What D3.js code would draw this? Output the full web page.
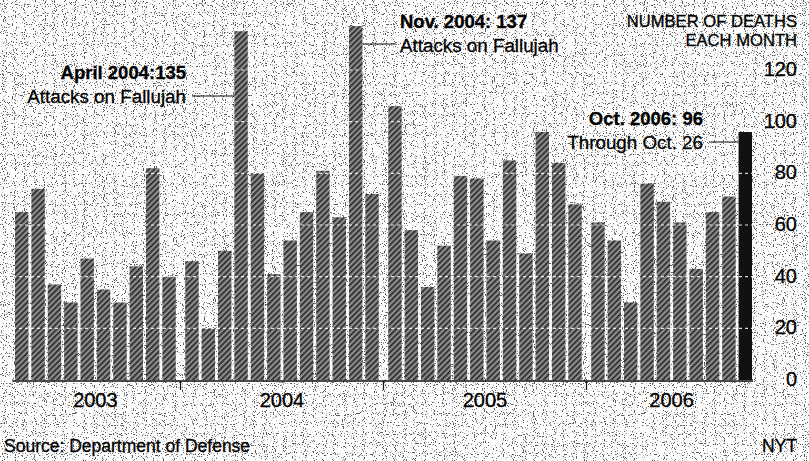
<!DOCTYPE html>
<html lang="en">
<head>
<meta charset="utf-8">
<title>Deaths each month</title>
<script src="https://d3js.org/d3.v7.min.js"></script>
<style>
  body { margin: 0; background: #fff; }
  svg text { font-family: "Liberation Sans", Arial, Helvetica, sans-serif; fill: #000; stroke: #000; stroke-width: 0.3px; }
</style>
</head>
<body>
<div id="chart"></div>
<script>
// Monthly deaths, March 2003 through Oct. 26, 2006
var years = ['2003', '2004', '2005', '2006'];
var deaths2003 = [65, 74, 37, 30, 47, 35, 30, 44, 82, 40];          // Mar - Dec
var deaths2004 = [46, 20, 50, 135, 80, 41, 54, 65, 81, 63, 137, 72];
var deaths2005 = [106, 58, 36, 52, 79, 78, 54, 85, 49, 96, 84, 68];
var deaths2006 = [61, 54, 30, 76, 69, 61, 43, 65, 71, 96];         // Jan - Oct
var yTicks = [0, 20, 40, 60, 80, 100, 120];

// flatten into one list of months, remembering the year group
var months = [];
[deaths2003, deaths2004, deaths2005, deaths2006].forEach(function (arr, k) {
    arr.forEach(function (v) {
        months.push({ year: k, value: v });
    });
});
months.forEach(function (d, i) {
    d.pos = i + 0.4 * d.year;       // small gap between years
    d.last = (i === months.length - 1);
});

var width = 809, height = 461;
var svg = d3.select('#chart').append('svg')
    .attr('width', width)
    .attr('height', height);

var defs = svg.append('defs');

// speckled newsprint background
var f = defs.append('filter').attr('id', 'speckle')
    .attr('x', 0).attr('y', 0).attr('width', '100%').attr('height', '100%');
f.append('feTurbulence')
    .attr('type', 'fractalNoise')
    .attr('baseFrequency', 0.9)
    .attr('numOctaves', 1)
    .attr('seed', 4)
    .attr('result', 'noise');
f.append('feColorMatrix')
    .attr('in', 'noise')
    .attr('type', 'matrix')
    .attr('values', '0 0 0 0 0.1  0 0 0 0 0.1  0 0 0 0 0.1  14 0 0 0 -8.3');

// diagonal hatch for bars
var pat = defs.append('pattern').attr('id', 'hatch')
    .attr('patternUnits', 'userSpaceOnUse')
    .attr('width', 4).attr('height', 4)
    .attr('patternTransform', 'rotate(45)');
pat.append('rect').attr('width', 4).attr('height', 4).attr('fill', '#8c8c8c');
pat.append('rect').attr('width', 1.8).attr('height', 4).attr('fill', '#2e2e2e');

svg.append('rect').attr('width', width).attr('height', height).attr('fill', '#fff');
svg.append('rect').attr('width', width).attr('height', height)
    .attr('filter', 'url(#speckle)');

// scales
var x = d3.scaleLinear().domain([0, 45.02]).range([15, 752]);
var barW = x(0.82) - x(0);
var y = d3.scaleLinear().domain([0, 120]).range([380, 70]);

// bars
svg.selectAll('.bar')
    .data(months)
    .enter()
    .append('rect')
    .attr('class', 'bar')
    .attr('x', function (d) { return x(d.pos); })
    .attr('y', function (d) { return y(d.value); })
    .attr('width', barW)
    .attr('height', function (d) { return y(0) - y(d.value); })
    .attr('fill', function (d) { return d.last ? '#111' : 'url(#hatch)'; });

// white dashed gridlines running through the bars
svg.selectAll('.grid')
    .data(yTicks.slice(1))
    .enter()
    .append('line')
    .attr('class', 'grid')
    .attr('x1', 13).attr('x2', 753)
    .attr('y1', function (d) { return y(d); })
    .attr('y2', function (d) { return y(d); })
    .attr('stroke', '#fff')
    .attr('stroke-width', 1.2)
    .attr('stroke-dasharray', '3,3')
    .attr('opacity', 0.85);

// baseline
svg.append('line')
    .attr('x1', 13).attr('x2', 753)
    .attr('y1', 381).attr('y2', 381)
    .attr('stroke', '#111').attr('stroke-width', 1.5);

// y axis labels on the right
var yAxis = d3.axisRight(y).tickValues(yTicks).tickSize(0).tickPadding(0);
var gy = svg.append('g').attr('transform', 'translate(797,-1)').call(yAxis);
gy.select('.domain').remove();
gy.selectAll('text')
    .attr('text-anchor', 'end')
    .attr('x', 0)
    .style('font-size', '20px')
    .style('font-family', '"Liberation Sans", Arial, sans-serif')
    .attr('fill', '#000');

// year ticks and labels
var groups = years.map(function (yr, k) {
    var m = months.filter(function (d) { return d.year === k; });
    return {
        label: yr,
        start: m[0].pos,
        end: m[m.length - 1].pos + 0.82
    };
});
svg.selectAll('.ytick')
    .data(groups.slice(1))
    .enter()
    .append('line')
    .attr('x1', function (d) { return x(d.start - 0.29); })
    .attr('x2', function (d) { return x(d.start - 0.29); })
    .attr('y1', 381).attr('y2', 390)
    .attr('stroke', '#111').attr('stroke-width', 1.2);

svg.selectAll('.year')
    .data(groups)
    .enter()
    .append('text')
    .attr('x', function (d) { return (x(d.start) + x(d.end)) / 2; })
    .attr('y', 407)
    .attr('text-anchor', 'middle')
    .style('font-size', '20px')
    .text(function (d) { return d.label; });

// axis title
svg.append('text').attr('x', 797).attr('y', 27)
    .attr('text-anchor', 'end').style('font-size', '16.6px')
    .text('NUMBER OF DEATHS');
svg.append('text').attr('x', 797).attr('y', 46)
    .attr('text-anchor', 'end').style('font-size', '16.6px')
    .text('EACH MONTH');

// annotations
function note(bold, plain, tx, ty, anchor) {
    svg.append('text').attr('x', tx).attr('y', ty)
        .attr('text-anchor', anchor)
        .style('font-size', '18.5px').style('font-weight', 'bold')
        .text(bold);
    svg.append('text').attr('x', tx).attr('y', ty + 24)
        .attr('text-anchor', anchor)
        .style('font-size', '18.8px')
        .text(plain);
}
var apr04 = months[13], nov04 = months[20], oct06 = months[months.length - 1];

note('April 2004:135', 'Attacks on Fallujah', 186, 79, 'end');
svg.append('line')
    .attr('x1', 192).attr('x2', x(apr04.pos))
    .attr('y1', 96).attr('y2', 96)
    .attr('stroke', '#111').attr('stroke-width', 1);

note('Nov. 2004: 137', 'Attacks on Fallujah', 400, 28, 'start');
svg.append('line')
    .attr('x1', x(nov04.pos) + barW).attr('x2', 396)
    .attr('y1', 44).attr('y2', 44)
    .attr('stroke', '#111').attr('stroke-width', 1);

note('Oct. 2006: 96', 'Through Oct. 26', 703, 125, 'end');
svg.append('line')
    .attr('x1', 709).attr('x2', x(oct06.pos))
    .attr('y1', 142).attr('y2', 142)
    .attr('stroke', '#111').attr('stroke-width', 1);

// footer
svg.append('text').attr('x', 4).attr('y', 452)
    .style('font-size', '17.5px')
    .text('Source: Department of Defense');
svg.append('text').attr('x', 797).attr('y', 452)
    .attr('text-anchor', 'end').style('font-size', '17.5px')
    .text('NYT');
</script>
</body>
</html>
